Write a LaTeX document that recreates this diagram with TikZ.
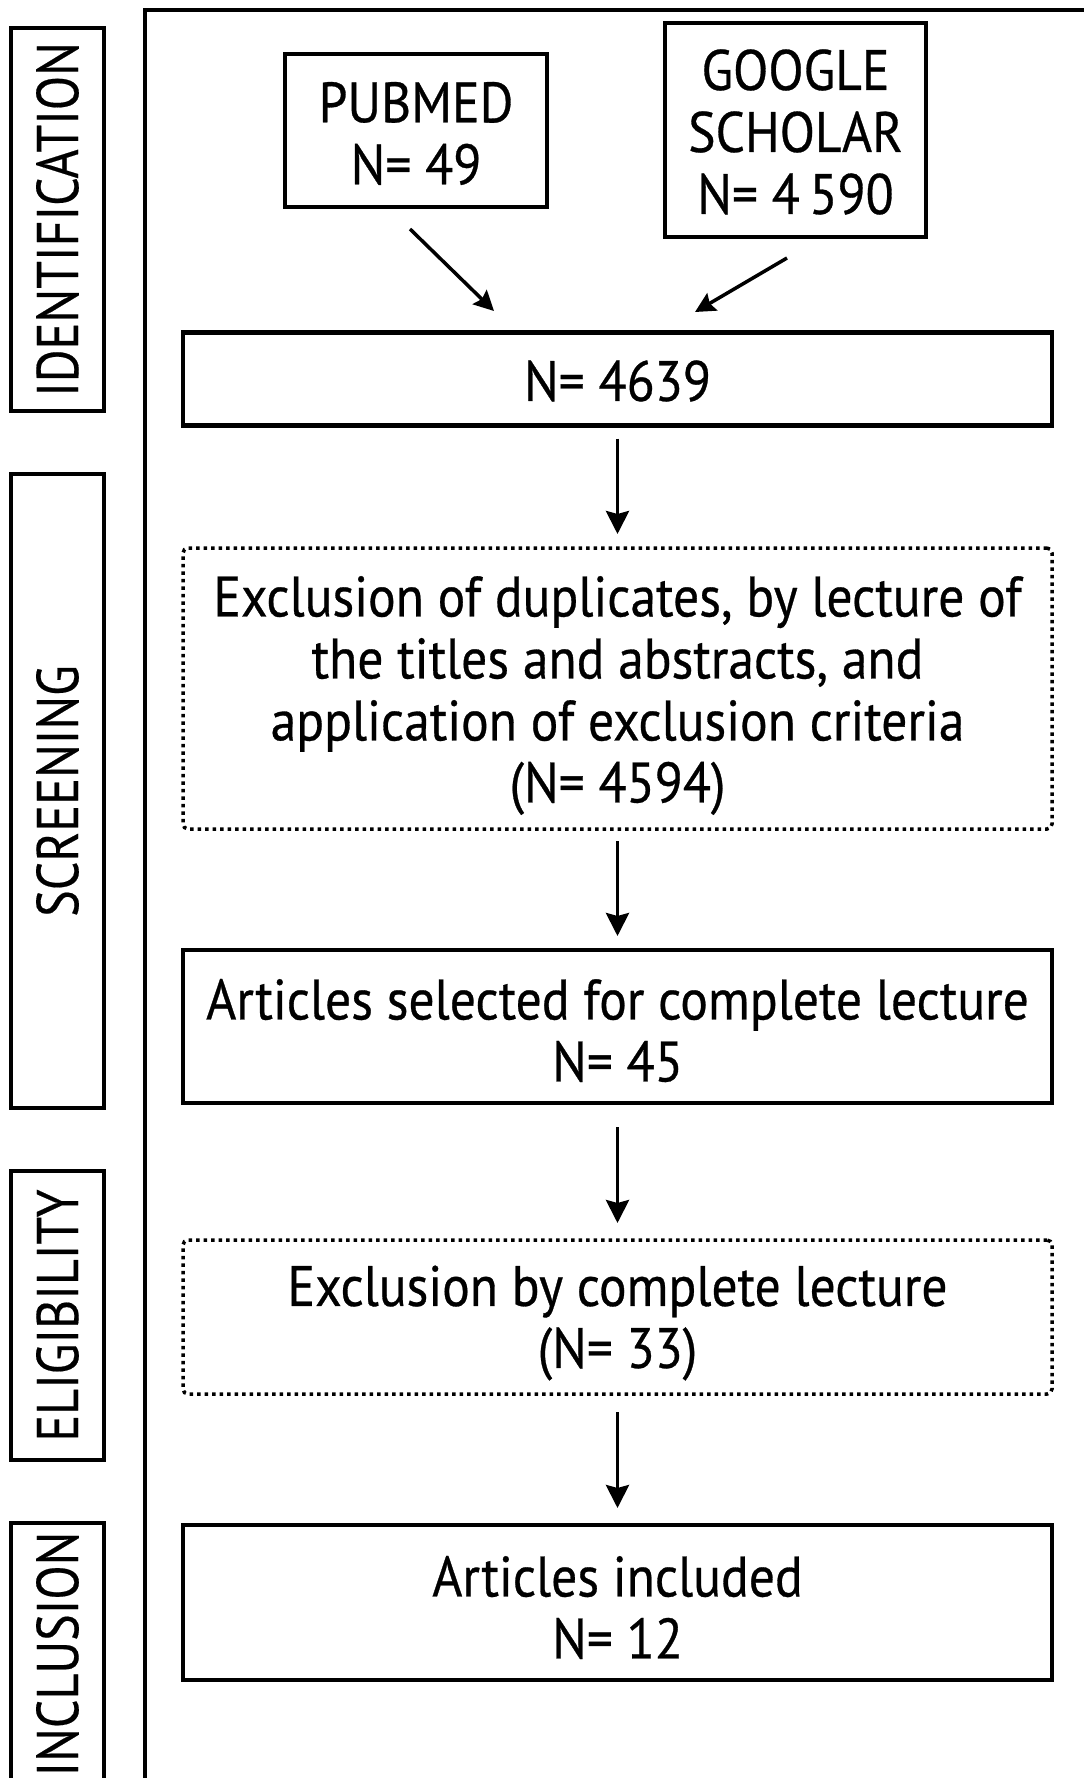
\documentclass[tikz,border=0pt]{standalone}
\usepackage{fontspec}
\setmainfont{PT Sans}[FakeStretch=0.905,FakeBold=0.5]
\newfontfamily\sidefam{PT Sans}[FakeStretch=0.85,FakeBold=0.3]
\usetikzlibrary{arrows.meta,calc}
\newcommand\mainfs{\fontsize{57}{62}\selectfont}
\newcommand\sidefs{\sidefam\fontsize{59}{62}\selectfont}
\begin{document}
\begin{tikzpicture}[x=1pt,y=-1pt,
  sbox/.style={draw, line width=4.5pt, inner sep=0pt, outer sep=0pt},
  dbox/.style={sbox, line width=3.5pt, dash pattern=on 3.5pt off 4pt, rounded corners=5pt},
  ltx/.style={align=center, font=\mainfs, inner sep=0pt, outer sep=0pt},
  side/.style={draw, line width=4pt, inner sep=0pt, outer sep=0pt, rotate=90, minimum height=93pt, font=\sidefs},
  arr/.style={-{Stealth[length=23pt,width=23pt,inset=3pt]}, line width=3.8pt},
  darr/.style={-{Stealth[length=20pt,width=20pt,inset=3pt]}, line width=3.5pt},
  wide/.style={minimum width=869pt}]
\useasboundingbox (0,0) rectangle (1084,1778);
\clip (0,0) rectangle (1084,1778);
% main frame
\draw[line width=4pt] (145,1800) -- (145,10) -- (1100,10);
% side labels
\node[side, minimum width=383pt] (sid) at (57.5,219.5) {IDENTIFICATION};
\node[side, minimum width=634pt] (sscr) at (57.5,791) {SCREENING};
\node[side, minimum width=289pt] (sel) at (57.5,1315.5) {ELIGIBILITY};
\node[side, minimum width=262pt] (sinc) at (57.5,1654) {INCLUSION};
% boxes
\node[sbox, minimum width=262pt, minimum height=153pt,
  label={[ltx,yshift=-3pt]center:{PUBMED\\N= 49}}] (pub) at (416,130.5) {};
\node[sbox, minimum width=261pt, minimum height=214pt,
  label={[ltx,yshift=-2pt]center:{GOOGLE\\SCHOLAR\\N= 4\,590}}] (goo) at (795.5,130) {};
\node[sbox, wide, minimum height=93pt,
  label={[ltx,yshift=-2pt]center:{N= 4639}}] (tot) at (617.5,379) {};
\node[dbox, wide, minimum height=281pt,
  label={[ltx,yshift=-7pt]center:{Exclusion of duplicates, by lecture of\\the titles and abstracts, and\\application of exclusion criteria\\(N= 4594)}}] (ex1) at (617.5,688.5) {};
\node[sbox, wide, minimum height=153pt,
  label={[ltx,yshift=-4pt]center:{Articles selected for complete lecture\\N= 45}}] (art) at (617.5,1026.5) {};
\node[dbox, wide, minimum height=154pt,
  label={[ltx,yshift=-6pt]center:{Exclusion by complete lecture\\(N= 33)}}] (ex2) at (617.5,1317) {};
\node[sbox, wide, minimum height=155pt,
  label={[ltx,yshift=-5pt]center:{Articles included\\N= 12}}] (inc) at (617.5,1602.5) {};
% arrows
\draw[darr] ($(pub.south)+(-6,22)$) -- ($(tot.north)+(-123.5,-21.5)$);
\draw[darr] ($(goo.south)+(-8.5,21)$) -- ($(tot.north)+(77.5,-20.5)$);
\draw[arr, shorten <=13pt, shorten >=14pt] (tot) -- (ex1);
\draw[arr, shorten <=12pt, shorten >=14pt] (ex1) -- (art);
\draw[arr, shorten <=24pt, shorten >=17pt] (art) -- (ex2);
\draw[arr, shorten <=18pt, shorten >=17pt] (ex2) -- (inc);
\end{tikzpicture}
\end{document}
